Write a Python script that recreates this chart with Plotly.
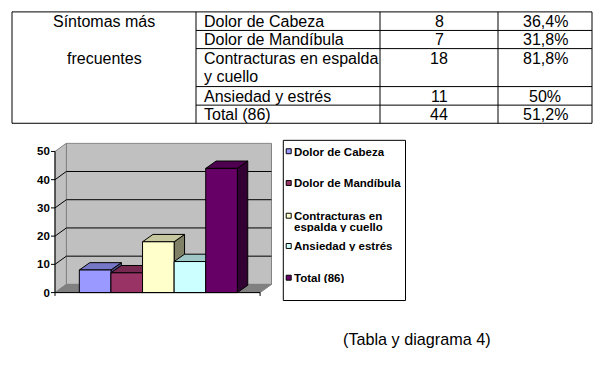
import plotly.graph_objects as go

# ---------------- data ----------------
symptoms = ["Dolor de Cabeza", "Dolor de Mandíbula", "Contracturas en espalda y cuello",
            "Ansiedad y estrés", "Total (86)"]
table_lines = [["Dolor de Cabeza"], ["Dolor de Mandíbula"], ["Contracturas en espalda", "y cuello"],
               ["Ansiedad y estrés"], ["Total (86)"]]
legend_lines = [["Dolor de Cabeza"], ["Dolor de Mandíbula"], ["Contracturas en", "espalda y cuello"],
                ["Ansiedad y estrés"], ["Total (86)"]]
counts = [8, 7, 18, 11, 44]
percents = ["36,4%", "31,8%", "81,8%", "50%", "51,2%"]
header_lines = ["Síntomas más", "frecuentes"]
y_ticks = [0, 10, 20, 30, 40, 50]
caption = "(Tabla y diagrama 4)"

front_colors = ["#9999FF", "#993366", "#FFFFCC", "#CCFFFF", "#660066"]

W, H = 614, 366
FONT = "Liberation Sans, Arial, sans-serif"


def shade(hexc, f):
    r, g, b = int(hexc[1:3], 16), int(hexc[3:5], 16), int(hexc[5:7], 16)
    return "rgb(%d,%d,%d)" % (round(r * f), round(g * f), round(b * f))


def pxx(x):
    return x / W


def pxy(y):
    return 1 - y / H


fig = go.Figure()
shapes = []
annotations = []

# ---------------- table ----------------
col_x = [12, 196, 380, 498, 592]
row_y = [12, 30.7, 49, 87.3, 106, 124.3]
line = dict(color="black", width=1)
shapes.append(dict(type="rect", xref="paper", yref="paper", x0=pxx(col_x[0]), x1=pxx(col_x[-1]),
                   y0=pxy(row_y[0]), y1=pxy(row_y[-1]), line=line))
for cx in col_x[1:-1]:
    shapes.append(dict(type="line", xref="paper", yref="paper", x0=pxx(cx), x1=pxx(cx),
                       y0=pxy(row_y[0]), y1=pxy(row_y[-1]), line=line))
for ry in row_y[1:-1]:
    shapes.append(dict(type="line", xref="paper", yref="paper", x0=pxx(col_x[1]), x1=pxx(col_x[-1]),
                       y0=pxy(ry), y1=pxy(ry), line=line))

tfont = dict(family=FONT, size=16, color="black")
LINE_H = 18.3
header_y = [row_y[0] + 9.6, row_y[2] + 9.6]
for k, t in enumerate(header_lines):
    annotations.append(dict(xref="paper", yref="paper", x=pxx((col_x[0] + col_x[1]) / 2),
                            y=pxy(header_y[k]), text=t, showarrow=False, font=tfont,
                            xanchor="center", yanchor="middle"))
for i in range(len(symptoms)):
    yc = row_y[i] + 9.6
    for k, t in enumerate(table_lines[i]):
        annotations.append(dict(xref="paper", yref="paper", x=pxx(col_x[1] + 5.5), y=pxy(yc + k * LINE_H),
                                text=t, showarrow=False, font=tfont, xanchor="left", yanchor="middle"))
    annotations.append(dict(xref="paper", yref="paper", x=pxx((col_x[2] + col_x[3]) / 2), y=pxy(yc),
                            text=str(counts[i]), showarrow=False, font=tfont,
                            xanchor="center", yanchor="middle"))
    annotations.append(dict(xref="paper", yref="paper", x=pxx((col_x[3] + col_x[4]) / 2), y=pxy(yc),
                            text=percents[i], showarrow=False, font=tfont,
                            xanchor="center", yanchor="middle"))

# ---------------- pseudo 3D column chart ----------------
X0, X1 = -1.27, 5.22        # front plane left / right (bar units)
DXW, DYW = 0.36, 2.9        # wall depth offset
DXB, DYB = 0.33, 2.6        # bar depth offset
YMAX = 50
XL, XR = X0 - 0.13, X1 + DXW + 0.03
YB, YT = -1.2, YMAX + DYW + 0.3
SX, SY = 31.6, 2.846        # px per unit
AX_PX, AY_PX = 55, 295      # pixel of (X0, 0)


def poly(xs, ys, fill, lcolor="black", lw=1):
    fig.add_trace(go.Scatter(x=xs + [xs[0]], y=ys + [ys[0]], mode="lines", fill="toself",
                             fillcolor=fill, line=dict(color=lcolor, width=lw),
                             hoverinfo="skip", showlegend=False))


def path(xs, ys, color="black", lw=1):
    fig.add_trace(go.Scatter(x=xs, y=ys, mode="lines", line=dict(color=color, width=lw),
                             hoverinfo="skip", showlegend=False, connectgaps=False))


# back wall, side wall, floor
poly([X0 + DXW, X1 + DXW, X1 + DXW, X0 + DXW], [DYW, DYW, YMAX + DYW, YMAX + DYW], "#C0C0C0", "#808080")
poly([X0, X0 + DXW, X0 + DXW, X0], [0, DYW, YMAX + DYW, YMAX], "#C0C0C0", "#808080")
# gridlines
gx, gy = [], []
for v in y_ticks[1:-1]:
    gx += [X0, X0 + DXW, X1 + DXW, None]
    gy += [v, v + DYW, v + DYW, None]
path(gx, gy, "black")
poly([X0, X1, X1 + DXW, X0 + DXW], [0, 0, DYW, DYW], "#808080", "#808080")

# bars
for i, v in enumerate(counts):
    l, r = i - 0.5, i + 0.5
    c = front_colors[i]
    poly([r, r + DXB, r + DXB, r], [0, DYB, v + DYB, v], shade(c, 0.5))
    poly([l, r, r + DXB, l + DXB], [v, v, v + DYB, v + DYB], shade(c, 0.78))
    poly([l, r, r, l], [0, 0, v, v], c)

# axes lines and ticks
path([X0, X0, X1], [YMAX, 0, 0], "black")
tx, ty = [], []
for v in y_ticks:
    tx += [XL, X0, None]
    ty += [v, v, None]
for xv in [X0, X1]:
    tx += [xv, xv, None]
    ty += [0, YB, None]
path(tx, ty, "black")

x_dom = [(AX_PX + (XL - X0) * SX) / W, (AX_PX + (XR - X0) * SX) / W]
y_dom = [1 - (AY_PX - YB * SY) / H, 1 - (AY_PX - YT * SY) / H]

fig.update_xaxes(range=[XL, XR], domain=x_dom, showgrid=False, zeroline=False, showline=False,
                 showticklabels=False, ticks="", fixedrange=True)
fig.update_yaxes(range=[YB, YT], domain=y_dom, showgrid=False, zeroline=False, showline=False,
                 tickvals=y_ticks, ticktext=[str(v) for v in y_ticks], ticks="",
                 tickfont=dict(family=FONT, size=11.5, color="black", weight="bold"), fixedrange=True)

# ---------------- legend ----------------
shapes.append(dict(type="rect", xref="paper", yref="paper", x0=pxx(283.3), x1=pxx(405.5),
                   y0=pxy(141.5), y1=pxy(303), line=line))
leg_y = [152.5, 184.5, 217.5, 248, 280]
LEG_LH = 11.3
lfont = dict(family=FONT, size=11.5, color="black", weight="bold")
for i in range(len(symptoms)):
    yc = leg_y[i]
    shapes.append(dict(type="rect", xref="paper", yref="paper", x0=pxx(286.2), x1=pxx(291.2),
                       y0=pxy(yc + 2.5), y1=pxy(yc - 2.5), fillcolor=front_colors[i],
                       line=dict(color="black", width=1)))
    for k, t in enumerate(legend_lines[i]):
        annotations.append(dict(xref="paper", yref="paper", x=pxx(292.5), y=pxy(yc + k * LEG_LH),
                                text=t, showarrow=False, font=lfont, xanchor="left", yanchor="middle",
                                height=11, borderpad=0, valign="middle"))

# ---------------- caption ----------------
annotations.append(dict(xref="paper", yref="paper", x=pxx(417), y=pxy(341.5), text=caption,
                        showarrow=False, font=dict(family=FONT, size=16.2, color="black"),
                        xanchor="center", yanchor="middle"))

fig.update_layout(width=W, height=H, margin=dict(l=0, r=0, t=0, b=0), paper_bgcolor="white",
                  plot_bgcolor="rgba(0,0,0,0)", showlegend=False, shapes=shapes,
                  annotations=annotations)

fig.write_html("out.html", config={"displayModeBar": False},
               post_script="document.body.style.margin='0px';document.body.style.padding='0px';")
